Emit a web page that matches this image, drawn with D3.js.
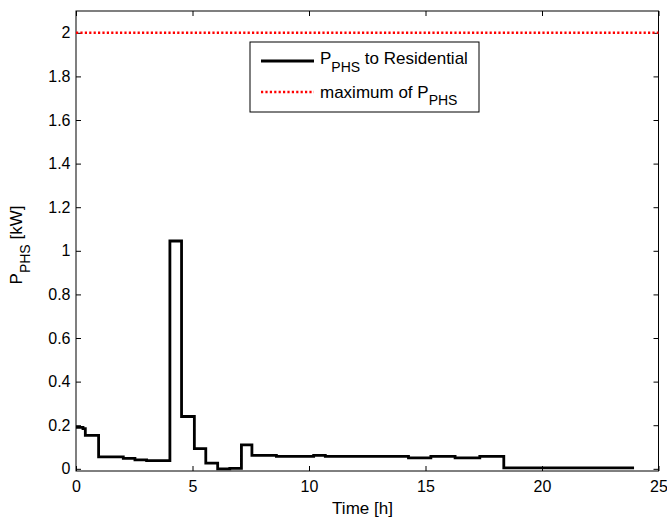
<!DOCTYPE html>
<html>
<head>
<meta charset="utf-8">
<script src="https://cdn.jsdelivr.net/npm/d3@7"></script>
<style>
  html, body { margin: 0; padding: 0; background: #fff; }
  svg { display: block; font-family: "Liberation Sans", Arial, sans-serif; }
  .tick text { font-size: 16px; fill: #000; }
</style>
</head>
<body>
<svg id="chart" width="667" height="517"></svg>
<script>
// Power delivered from the PHS unit to the residential load (kW).
// Each value holds from its start time until the next start time.
const stepStart = [0, 0.3, 0.4, 0.97, 2.03, 2.53, 3.03, 4.03, 4.53, 5.08, 5.57, 6.08, 6.6, 7.1, 7.55, 8.6, 10.2, 10.7, 14.27, 15.23, 16.27, 17.33, 18.36];
const stepValue = [0.19, 0.184, 0.153, 0.055, 0.048, 0.041, 0.038, 1.045, 0.24, 0.093, 0.026, 0.0, 0.002, 0.11, 0.062, 0.057, 0.062, 0.057, 0.05, 0.057, 0.05, 0.057, 0.004];
const stepEnd = 23.95;

// Upper limit of PHS power
const maxPower = 2;

const xTicks = [0, 5, 10, 15, 20, 25];
const yTicks = [0, 0.2, 0.4, 0.6, 0.8, 1, 1.2, 1.4, 1.6, 1.8, 2];
const xDomain = [0, 25];
const yDomain = [-0.01, 2.1];

const svg = d3.select("#chart");
const plotL = 76, plotR = 658.5, plotT = 11, plotB = 471;

const x = d3.scaleLinear().domain(xDomain).range([plotL, plotR]);
const y = d3.scaleLinear().domain(yDomain).range([plotB, plotT]);

// Axes with inward ticks on all four sides
const tickLen = 5;
svg.append("g")
  .attr("transform", `translate(0,${plotB})`)
  .call(d3.axisBottom(x).tickValues(xTicks).tickSize(-tickLen).tickPadding(10).tickFormat(d3.format("d")))
  .call(g => g.select(".domain").remove());
svg.append("g")
  .attr("transform", `translate(0,${plotT})`)
  .call(d3.axisTop(x).tickValues(xTicks).tickSize(-tickLen).tickFormat(""))
  .call(g => g.select(".domain").remove());
svg.append("g")
  .attr("transform", `translate(${plotL},0)`)
  .call(d3.axisLeft(y).tickValues(yTicks).tickSize(-tickLen).tickPadding(5.5).tickFormat(d3.format("~g")))
  .call(g => g.select(".domain").remove());
svg.append("g")
  .attr("transform", `translate(${plotR},0)`)
  .call(d3.axisRight(y).tickValues(yTicks).tickSize(-tickLen).tickFormat(""))
  .call(g => g.select(".domain").remove());

svg.selectAll(".tick line").attr("stroke", "#000").attr("stroke-width", 1);

// Plot box
svg.append("rect")
  .attr("x", plotL).attr("y", plotT)
  .attr("width", plotR - plotL).attr("height", plotB - plotT)
  .attr("fill", "none").attr("stroke", "#000").attr("stroke-width", 1);

// Maximum power line
svg.append("line")
  .attr("x1", x(xDomain[0])).attr("x2", x(xDomain[1]))
  .attr("y1", y(maxPower)).attr("y2", y(maxPower))
  .attr("stroke", "#ff0000").attr("stroke-width", 2.5)
  .attr("stroke-dasharray", "2.2,2.2");

// Stepped power profile
const points = stepStart.map((t, i) => [t, stepValue[i]]);
points.push([stepEnd, stepValue[stepValue.length - 1]]);
const line = d3.line()
  .x(d => x(d[0]))
  .y(d => y(d[1]))
  .curve(d3.curveStepAfter);
svg.append("path")
  .datum(points)
  .attr("d", line)
  .attr("fill", "none")
  .attr("stroke", "#000")
  .attr("stroke-width", 2.8)
  .attr("stroke-linejoin", "miter");

// Axis titles
svg.append("text")
  .attr("x", 362.5).attr("y", 514)
  .attr("text-anchor", "middle")
  .attr("font-size", 17)
  .text("Time [h]");

const yTitle = svg.append("text")
  .attr("transform", `translate(22,${245}) rotate(-90)`)
  .attr("text-anchor", "middle")
  .attr("font-size", 17);
yTitle.append("tspan").text("P");
yTitle.append("tspan").attr("font-size", 14).attr("dy", 8).text("PHS");
yTitle.append("tspan").attr("dy", -8).text(" [kW]");

// Legend
const legend = svg.append("g");
legend.append("rect")
  .attr("x", 250).attr("y", 42).attr("width", 229).attr("height", 70)
  .attr("fill", "#fff").attr("stroke", "#000").attr("stroke-width", 1);
legend.append("line")
  .attr("x1", 261).attr("x2", 314).attr("y1", 61).attr("y2", 61)
  .attr("stroke", "#000").attr("stroke-width", 2.8);
legend.append("line")
  .attr("x1", 261).attr("x2", 314).attr("y1", 92).attr("y2", 92)
  .attr("stroke", "#ff0000").attr("stroke-width", 2.5)
  .attr("stroke-dasharray", "2.2,2.2");
const l1 = legend.append("text").attr("x", 320).attr("y", 63.5).attr("font-size", 17);
l1.append("tspan").text("P");
l1.append("tspan").attr("font-size", 14).attr("dy", 8).text("PHS");
l1.append("tspan").attr("dy", -8).text(" to Residential");
const l2 = legend.append("text").attr("x", 320).attr("y", 98).attr("font-size", 17);
l2.append("tspan").text("maximum of P");
l2.append("tspan").attr("font-size", 14).attr("dy", 7).text("PHS");
</script>
</body>
</html>
